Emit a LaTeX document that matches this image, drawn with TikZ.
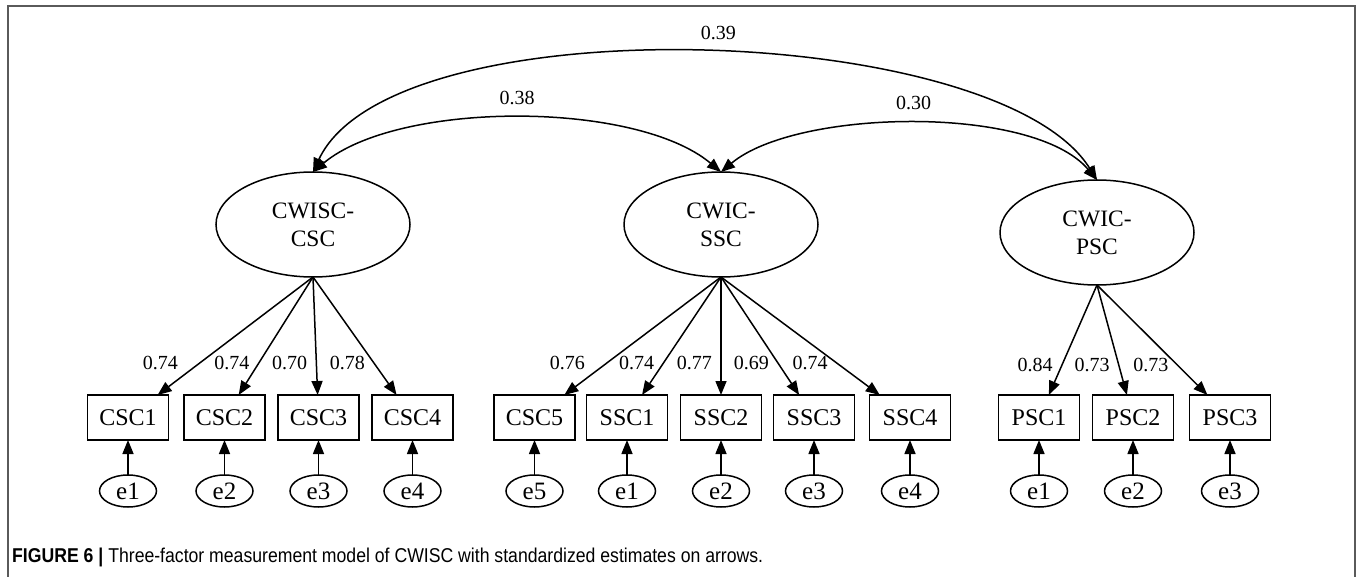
\documentclass[tikz,border=0pt]{standalone}
\usepackage{fontspec}
\setmainfont{Liberation Serif}
\newfontfamily\capfont[FakeStretch=0.882]{Liberation Sans}
\usepackage{tkz-graph}
\usetikzlibrary{arrows.meta}
\usetikzlibrary{shapes}
\definecolor{framegray}{RGB}{90,90,90}

\begin{document}
\begin{tikzpicture}[x = 1pt, y = -1pt, >={Triangle[length=14pt, width=11pt]}]
	\tikzstyle{VertexStyle} = []
	\tikzstyle{LabelStyle} = [fill = none, font = \fontsize{20}{24}\selectfont]
	\tikzstyle{factorStyle} = [shape = ellipse, draw, line width = 1.5pt, minimum width = 194pt, minimum height = 105pt, inner sep = 0pt, align = center, font = \fontsize{23.5}{28}\selectfont]
	\tikzstyle{itemStyle} = [shape = rectangle, draw, line width = 1.5pt, minimum width = 81pt, minimum height = 45pt, inner sep = 0pt, font = \fontsize{24}{28}\selectfont]
	\tikzstyle{errorStyle} = [shape = ellipse, draw, line width = 1.5pt, minimum width = 57pt, minimum height = 32pt, inner sep = 0pt, font = \fontsize{25}{28}\selectfont]
	\tikzstyle{loadingStyle} = [LabelStyle, pos = 0.73, anchor = east, inner sep = 0pt, xshift = -8.5pt]
	\tikzstyle{loadingFarStyle} = [LabelStyle, pos = 0.73, anchor = east, inner sep = 0pt, xshift = -21pt]
	\tikzstyle{covLabelStyle} = [above = 11pt, inner sep = 2pt, font = \fontsize{23}{28}\selectfont]
	\useasboundingbox (0, 0) rectangle (1357, 577);
	\draw[framegray, line width = 2pt] (8, 577) -- (8, 6) -- (1355, 6) -- (1355, 577);
	% latent factors
	\Vertex[style = factorStyle, x = 313, y = 224.5, L = {CWISC-\\CSC}]{cwisc}
	\Vertex[style = factorStyle, x = 721, y = 224.5, L = {CWIC-\\SSC}]{ssc}
	\Vertex[style = factorStyle, x = 1097, y = 232.5, L = {CWIC-\\PSC}]{psc}
	% observed items
	\Vertex[style = itemStyle, x = 128, y = 417.5, L = {CSC1}]{csc1}
	\Vertex[style = itemStyle, x = 224.5, y = 417.5, L = {CSC2}]{csc2}
	\Vertex[style = itemStyle, x = 318.5, y = 417.5, L = {CSC3}]{csc3}
	\Vertex[style = itemStyle, x = 412.5, y = 417.5, L = {CSC4}]{csc4}
	\Vertex[style = itemStyle, x = 534.5, y = 417.5, L = {CSC5}]{csc5}
	\Vertex[style = itemStyle, x = 627, y = 417.5, L = {SSC1}]{ssc1}
	\Vertex[style = itemStyle, x = 721, y = 417.5, L = {SSC2}]{ssc2}
	\Vertex[style = itemStyle, x = 814, y = 417.5, L = {SSC3}]{ssc3}
	\Vertex[style = itemStyle, x = 910, y = 417.5, L = {SSC4}]{ssc4}
	\Vertex[style = itemStyle, x = 1039, y = 417.5, L = {PSC1}]{psc1}
	\Vertex[style = itemStyle, x = 1133, y = 417.5, L = {PSC2}]{psc2}
	\Vertex[style = itemStyle, x = 1230, y = 417.5, L = {PSC3}]{psc3}
	% error terms
	\Vertex[style = errorStyle, x = 128, y = 491, L = {e1}]{ecsc1}
	\Vertex[style = errorStyle, x = 224.5, y = 491, L = {e2}]{ecsc2}
	\Vertex[style = errorStyle, x = 318.5, y = 491, L = {e3}]{ecsc3}
	\Vertex[style = errorStyle, x = 412.5, y = 491, L = {e4}]{ecsc4}
	\Vertex[style = errorStyle, x = 534.5, y = 491, L = {e5}]{ecsc5}
	\Vertex[style = errorStyle, x = 627, y = 491, L = {e1}]{essc1}
	\Vertex[style = errorStyle, x = 721, y = 491, L = {e2}]{essc2}
	\Vertex[style = errorStyle, x = 814, y = 491, L = {e3}]{essc3}
	\Vertex[style = errorStyle, x = 910, y = 491, L = {e4}]{essc4}
	\Vertex[style = errorStyle, x = 1039, y = 491, L = {e1}]{epsc1}
	\Vertex[style = errorStyle, x = 1133, y = 491, L = {e2}]{epsc2}
	\Vertex[style = errorStyle, x = 1230, y = 491, L = {e3}]{epsc3}
	% covariances, arrows at both ends
	\tikzstyle{EdgeStyle} = [<->, line width = 1.5pt]
	\Edge[label = {0.38}, labelstyle = {covLabelStyle}, style = {out = 40, in = 140, looseness = 0.70}](cwisc.north)(ssc.north)
	\Edge[label = {0.30}, labelstyle = {covLabelStyle}, style = {out = 40, in = 130, looseness = 0.67}](ssc.north)(psc.north)
	\Edge[label = {0.39}, labelstyle = {covLabelStyle, pos = 0.52}, style = {out = 65, in = 122, looseness = 0.61}](cwisc.north)(psc.north)
	% loadings
	\tikzstyle{EdgeStyle} = [->, line width = 1.5pt]
	\draw[EdgeStyle] (cwisc.south) -- node[loadingFarStyle] (lcsc1) {0.74} (csc1);
	\draw[EdgeStyle] (cwisc.south) -- node[loadingStyle] (lcsc2) {0.74} (csc2);
	\draw[EdgeStyle] (cwisc.south) -- node[loadingStyle] (lcsc3) {0.70} (csc3);
	\draw[EdgeStyle] (cwisc.south) -- node[loadingStyle] (lcsc4) {0.78} (csc4);
	\draw[EdgeStyle] (ssc.south) -- node[loadingFarStyle] (lcsc5) {0.76} (csc5);
	\draw[EdgeStyle] (ssc.south) -- node[loadingStyle] (lssc1) {0.74} (ssc1);
	\draw[EdgeStyle] (ssc.south) -- node[loadingStyle] (lssc2) {0.77} (ssc2);
	\draw[EdgeStyle] (ssc.south) -- node[loadingStyle] (lssc3) {0.69} (ssc3);
	\draw[EdgeStyle] (ssc.south) -- node[loadingStyle] (lssc4) {0.74} (ssc4);
	\draw[EdgeStyle] (psc.south) -- node[loadingStyle] (lpsc1) {0.84} (psc1);
	\draw[EdgeStyle] (psc.south) -- node[loadingStyle] (lpsc2) {0.73} (psc2);
	\draw[EdgeStyle] (psc.south) -- node[loadingStyle] (lpsc3) {0.73} (psc3);
	% residuals
	\Edge(ecsc1)(csc1)
	\Edge(ecsc2)(csc2)
	\Edge(ecsc3)(csc3)
	\Edge(ecsc4)(csc4)
	\Edge(ecsc5)(csc5)
	\Edge(essc1)(ssc1)
	\Edge(essc2)(ssc2)
	\Edge(essc3)(ssc3)
	\Edge(essc4)(ssc4)
	\Edge(epsc1)(psc1)
	\Edge(epsc2)(psc2)
	\Edge(epsc3)(psc3)
	\node[anchor = west, inner sep = 0pt, font = \capfont\fontsize{20}{24}\selectfont] (caption) at (12, 557) {\textbf{FIGURE 6 |} Three-factor measurement model of CWISC with standardized estimates on arrows.};
\end{tikzpicture}
\end{document}
